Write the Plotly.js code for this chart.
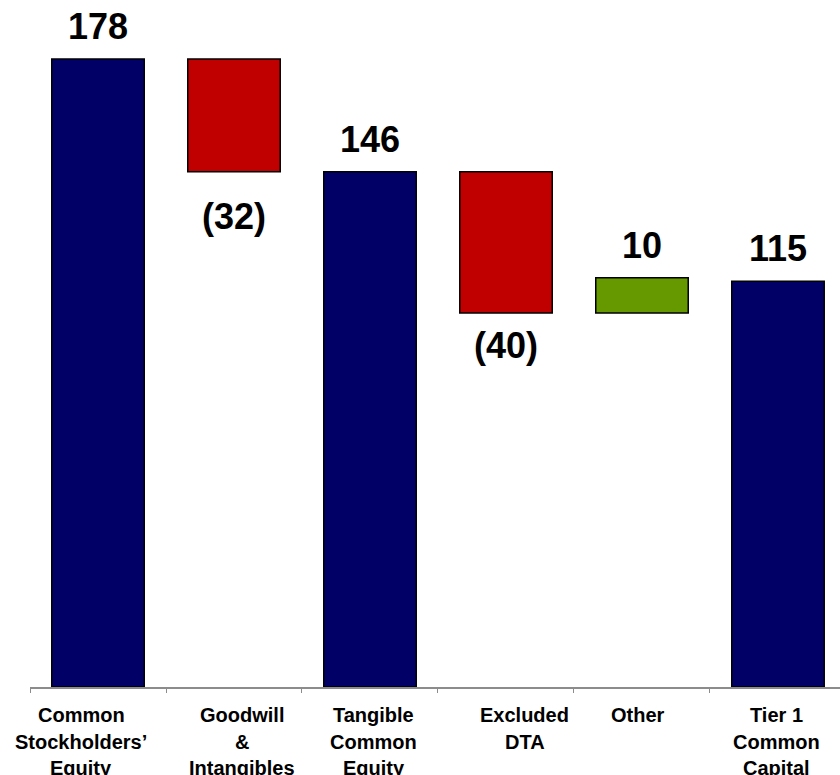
<!DOCTYPE html>
<html>
<head>
<meta charset="utf-8">
<script src="https://cdn.plot.ly/plotly-3.0.1.min.js"></script>
<style>html,body{margin:0;padding:0;background:#fff;}#chart{width:840px;height:775px;}</style>
</head>
<body>
<div id="chart"></div>
<script>
// ---- data ----
var categories = ['Common Stockholders’ Equity', 'Goodwill & Intangibles', 'Tangible Common Equity', 'Excluded DTA', 'Other', 'Tier 1 Common Capital'];
var tickLines = [['Common', 'Stockholders’', 'Equity'], ['Goodwill', '&', 'Intangibles'], ['Tangible', 'Common', 'Equity'], ['Excluded', 'DTA'], ['Other'], ['Tier 1', 'Common', 'Capital']];
var values = [178, -32, 146, -40, 10, 115];
var measures = ['absolute', 'relative', 'absolute', 'relative', 'relative', 'absolute'];

// ---- style (label nudges in pixels, as placed in the original slide) ----
var FONT = 'Liberation Sans, Arial, Helvetica, sans-serif';
var NAVY = '#000066', RED = '#C00000', GREEN = '#669900';
var OUTLINE = {color: '#000000', width: 1.5};
var tickNudgeX = [-17, 8, 4, 19, -4, -1];
var valueNudgeY = [0, -12, 0, 0, 0, 0];

function fmt(v) { return v < 0 ? '(' + Math.abs(v) + ')' : String(v); }

// compute bar ends through the data
var running = 0, annotations = [];
for (var i = 0; i < values.length; i++) {
  var lo, hi;
  if (measures[i] === 'absolute') { lo = 0; hi = values[i]; running = values[i]; }
  else { lo = Math.min(running, running + values[i]); hi = Math.max(running, running + values[i]); running += values[i]; }
  if (values[i] >= 0) {
    annotations.push({x: categories[i], y: hi, xref: 'x', yref: 'y', text: fmt(values[i]), showarrow: false,
      yanchor: 'bottom', yshift: 10 + valueNudgeY[i], font: {family: FONT, size: 36, color: '#000', weight: 'bold'}});
  } else {
    annotations.push({x: categories[i], y: lo, xref: 'x', yref: 'y', text: fmt(values[i]), showarrow: false,
      yanchor: 'top', yshift: -10 + valueNudgeY[i], font: {family: FONT, size: 36, color: '#000', weight: 'bold'}});
  }
  for (var j = 0; j < tickLines[i].length; j++) {
    annotations.push({x: categories[i], y: 0, xref: 'x', yref: 'y', text: tickLines[i][j], showarrow: false,
      yanchor: 'top', xshift: tickNudgeX[i], yshift: -15 - 26.5 * j, font: {family: FONT, size: 20, color: '#000', weight: 'bold'}});
  }
}

var trace = {
  type: 'waterfall',
  x: categories,
  y: values,
  measure: measures,
  width: 0.68,
  connector: {visible: false},
  increasing: {marker: {color: GREEN, line: OUTLINE}},
  decreasing: {marker: {color: RED, line: OUTLINE}},
  totals: {marker: {color: NAVY, line: OUTLINE}},
  textinfo: 'none',
  hoverinfo: 'skip'
};

var layout = {
  width: 840, height: 775, autosize: false,
  margin: {l: 30, r: 0, t: 0, b: 88, pad: 0},
  paper_bgcolor: '#ffffff', plot_bgcolor: '#ffffff',
  showlegend: false,
  xaxis: {
    type: 'category', range: [-0.5, 5.456], showline: true, linecolor: '#8c8c8c', linewidth: 1.5,
    ticks: 'outside', tickson: 'boundaries', ticklen: 4, tickcolor: '#8c8c8c', tickwidth: 1,
    showticklabels: false, showgrid: false, zeroline: false, fixedrange: true
  },
  yaxis: {range: [0, 194.7], visible: false, showgrid: false, zeroline: false, fixedrange: true},
  annotations: annotations
};

Plotly.newPlot('chart', [trace], layout, {displayModeBar: false, staticPlot: true});
</script>
</body>
</html>
